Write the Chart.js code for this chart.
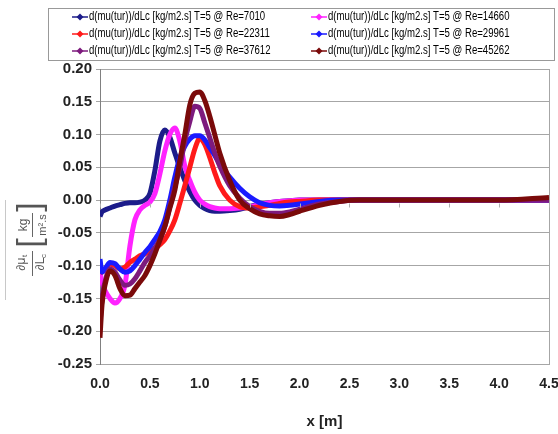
<!DOCTYPE html>
<html lang="en">
<head>
<meta charset="UTF-8">
<title>d(mu(tur))/dLc vs x</title>
<script src="https://cdn.jsdelivr.net/npm/chart.js"></script>
<style>
    html, body { margin: 0; padding: 0; background: #fff; }
    #wrap { width: 558px; height: 434px; }
</style>
</head>
<body>
<div id="wrap"><canvas id="chart" width="558" height="434"></canvas></div>
<script>
    // x positions [m] shared by all series
    const xPos = [0, 0.02, 0.05, 0.1, 0.15, 0.2, 0.25, 0.3, 0.35, 0.4,
                  0.45, 0.5, 0.55, 0.6, 0.65, 0.7, 0.75, 0.8, 0.85, 0.9,
                  0.95, 1.0, 1.05, 1.1, 1.15, 1.2, 1.3, 1.4, 1.5, 1.6,
                  1.7, 1.8, 1.9, 2.0, 2.2, 2.4, 2.6, 3.0, 3.5, 4.0, 4.5];

    const yRe7010 = [-0.025, -0.018, -0.015, -0.012, -0.009, -0.007, -0.005, -0.004, -0.004, -0.003,
                     0.0, 0.01, 0.045, 0.09, 0.107, 0.096, 0.072, 0.05, 0.03, 0.013,
                     0.0, -0.008, -0.013, -0.016, -0.017, -0.017, -0.016, -0.014, -0.01, -0.006,
                     -0.004, -0.002, -0.001, 0, 0, 0, 0, 0, 0, 0, 0];
    const yRe14660 = [-0.11, -0.125, -0.138, -0.15, -0.157, -0.15, -0.13, -0.07, -0.03, -0.015,
                      -0.008, -0.003, 0.01, 0.04, 0.075, 0.1, 0.11, 0.09, 0.052, 0.03,
                      0.012, 0.0, -0.006, -0.01, -0.012, -0.013, -0.013, -0.012, -0.01, -0.007,
                      -0.004, -0.002, -0.001, 0, 0, 0, 0, 0, 0, 0, 0];
    const yRe22311 = [-0.10, -0.11, -0.105, -0.098, -0.10, -0.105, -0.102, -0.095, -0.09, -0.085,
                      -0.082, -0.078, -0.074, -0.068, -0.06, -0.047, -0.03, -0.005, 0.022, 0.05,
                      0.078, 0.094, 0.085, 0.065, 0.042, 0.022, 0.0, -0.01, -0.012, -0.01,
                      -0.008, -0.005, -0.003, -0.002, 0, 0, 0, 0, 0, 0, 0];
    const yRe29961 = [-0.09, -0.11, -0.105, -0.095, -0.097, -0.105, -0.11, -0.108, -0.10, -0.09,
                      -0.08, -0.071, -0.06, -0.048, -0.03, 0.0, 0.035, 0.065, 0.082, 0.093,
                      0.098, 0.098, 0.092, 0.08, 0.068, 0.055, 0.035, 0.018, 0.005, -0.004,
                      -0.008, -0.009, -0.008, -0.006, -0.002, 0, 0, 0, 0, 0, 0];
    const yRe37612 = [-0.19, -0.15, -0.125, -0.105, -0.11, -0.122, -0.13, -0.128, -0.12, -0.108,
                      -0.095, -0.085, -0.073, -0.06, -0.04, -0.01, 0.02, 0.05, 0.09, 0.12,
                      0.143, 0.14, 0.118, 0.095, 0.072, 0.052, 0.022, 0.003, -0.01, -0.017,
                      -0.02, -0.02, -0.018, -0.014, -0.006, -0.002, 0, 0, 0, 0, 0];
    const yRe45262 = [-0.21, -0.16, -0.13, -0.108, -0.115, -0.135, -0.146, -0.145, -0.135, -0.125,
                      -0.115, -0.10, -0.082, -0.061, -0.04, -0.012, 0.015, 0.06, 0.10, 0.145,
                      0.163, 0.165, 0.152, 0.128, 0.10, 0.072, 0.03, 0.0, -0.013, -0.021,
                      -0.024, -0.025, -0.022, -0.017, -0.008, -0.002, 0, 0, 0, 0, 0.004];

    const seriesLabels = [
        'd(mu(tur))/dLc [kg/m2.s] T=5 @ Re=7010',
        'd(mu(tur))/dLc [kg/m2.s] T=5 @ Re=14660',
        'd(mu(tur))/dLc [kg/m2.s] T=5 @ Re=22311',
        'd(mu(tur))/dLc [kg/m2.s] T=5 @ Re=29961',
        'd(mu(tur))/dLc [kg/m2.s] T=5 @ Re=37612',
        'd(mu(tur))/dLc [kg/m2.s] T=5 @ Re=45262'
    ];
    const seriesValues = [yRe7010, yRe14660, yRe22311, yRe29961, yRe37612, yRe45262];
    const seriesColors = ['#1c1c8a', '#ff22ff', '#ff1a1a', '#1a1aff', '#7d1a7d', '#7a0a0a'];

    const FONT = "'Liberation Sans', Arial, sans-serif";

    // legend box at the top, drawn by hand so it keeps two aligned columns
    const boxLegend = {
        id: 'boxLegend',
        afterDraw(chart) {
            const ctx = chart.ctx;
            ctx.save();
            ctx.strokeStyle = '#999';
            ctx.lineWidth = 1;
            ctx.strokeRect(48.5, 8.5, 506, 52);
            ctx.font = '12px ' + FONT;
            ctx.textBaseline = 'middle';
            const colX = [72, 311];
            const rowY = [17, 34, 51];
            chart.data.datasets.forEach((ds, i) => {
                const x = colX[i % 2], y = rowY[Math.floor(i / 2)];
                ctx.strokeStyle = ds.borderColor;
                ctx.lineWidth = 1.5;
                ctx.beginPath();
                ctx.moveTo(x, y);
                ctx.lineTo(x + 16, y);
                ctx.stroke();
                ctx.fillStyle = ds.borderColor;
                ctx.beginPath();
                ctx.moveTo(x + 8, y - 3.5);
                ctx.lineTo(x + 11.5, y);
                ctx.lineTo(x + 8, y + 3.5);
                ctx.lineTo(x + 4.5, y);
                ctx.closePath();
                ctx.fill();
                // the original text is a condensed face, squeeze it
                ctx.save();
                ctx.translate(x + 17, y);
                ctx.scale(0.8, 1);
                ctx.fillStyle = '#000';
                ctx.fillText(ds.label, 0, 0);
                ctx.restore();
            });
            ctx.restore();
        }
    };

    // small tick marks along the y = 0 line, like the original axis crossing
    const zeroTicks = {
        id: 'zeroTicks',
        afterDatasetsDraw(chart) {
            const { ctx, scales: { x, y } } = chart;
            const y0 = Math.round(y.getPixelForValue(0)) + 0.5;
            ctx.save();
            ctx.strokeStyle = '#b0b0b0';
            ctx.lineWidth = 1;
            x.ticks.forEach(t => {
                const px = Math.round(x.getPixelForValue(t.value)) + 0.5;
                ctx.beginPath();
                ctx.moveTo(px, y0 + 3);
                ctx.lineTo(px, y0 + 7);
                ctx.stroke();
            });
            ctx.restore();
        }
    };

    // rotated y label: d(mu_t)/d(L_c) [kg/m2.s]
    const yLabel = {
        id: 'yLabel',
        afterDraw(chart) {
            const ctx = chart.ctx;
            const rot = (txt, sx, sy, font) => {
                ctx.save();
                ctx.translate(sx, sy);
                ctx.rotate(-Math.PI / 2);
                ctx.font = font;
                ctx.textAlign = 'center';
                ctx.textBaseline = 'middle';
                ctx.fillText(txt, 0, 0);
                ctx.restore();
            };
            const vbar = (x, y0, y1) => {
                ctx.beginPath();
                ctx.moveTo(x, y0); ctx.lineTo(x, y1); ctx.stroke();
            };
            ctx.save();
            ctx.fillStyle = '#555';
            ctx.lineWidth = 1;
            const f = '12px ' + FONT;
            const fs = '8px ' + FONT;
            // faint edge line at the far left
            ctx.strokeStyle = '#c8c8c8';
            vbar(5.5, 200, 300);
            ctx.strokeStyle = '#666';
            // fraction d(mu_t)/d(L_c)
            rot('\u2202\u03bc', 22, 264, f);
            rot('t', 25, 256, fs);
            vbar(32.5, 251, 276);
            rot('\u2202L', 41, 264, f);
            rot('c', 44, 256, fs);
            // bracketed unit kg/(m2.s)
            rot('[', 31, 243, '300 34px ' + FONT);
            rot(']', 31, 207, '300 34px ' + FONT);
            rot('kg', 24, 225, f);
            rot('m\u00b2.s', 43, 225, '11px ' + FONT);
            vbar(32.5, 213, 237);
            ctx.restore();
        }
    };

    const datasets = seriesValues.map((ys, i) => ({
        label: seriesLabels[i],
        data: xPos.map((x, j) => ({ x: x, y: ys[j] })),
        borderColor: seriesColors[i],
        backgroundColor: seriesColors[i],
        borderWidth: 5,
        pointRadius: 0,
        fill: false,
        cubicInterpolationMode: 'monotone',
        order: seriesValues.length - i
    }));

    new Chart(document.getElementById('chart'), {
        type: 'line',
        data: { datasets: datasets },
        options: {
            responsive: false,
            animation: false,
            layout: { padding: { top: 69, right: 9, left: 0, bottom: 0 } },
            plugins: { legend: { display: false }, tooltip: { enabled: false } },
            scales: {
                x: {
                    type: 'linear',
                    min: 0, max: 4.5,
                    ticks: {
                        stepSize: 0.5,
                        padding: 12,
                        color: '#222',
                        font: { family: FONT, size: 14, weight: 'bold' },
                        callback: v => v.toFixed(1)
                    },
                    grid: {
                        drawTicks: false,
                        color: c => (c.tick && Math.abs(c.tick.value - 4.5) < 1e-6) ? '#a6a6a6' : 'rgba(0,0,0,0)'
                    },
                    border: { color: '#a6a6a6' },
                    title: {
                        display: true,
                        text: 'x [m]',
                        color: '#222',
                        font: { family: FONT, size: 15, weight: 'bold' },
                        padding: { top: 0, bottom: 3 }
                    },
                    afterFit: s => { s.height = 70; s.paddingLeft = 0; s.paddingRight = 0; }
                },
                y: {
                    min: -0.25, max: 0.2,
                    ticks: {
                        stepSize: 0.05,
                        padding: 4,
                        color: '#222',
                        font: { family: FONT, size: 15, weight: 'bold' },
                        callback: v => (Math.abs(v) < 1e-9 ? 0 : v).toFixed(2)
                    },
                    grid: { color: '#a6a6a6', tickLength: 4 },
                    border: { color: '#808080' },
                    afterFit: s => { s.width = 100; s.paddingTop = 0; s.paddingBottom = 0; }
                }
            }
        },
        plugins: [boxLegend, zeroTicks, yLabel]
    });
</script>
</body>
</html>
